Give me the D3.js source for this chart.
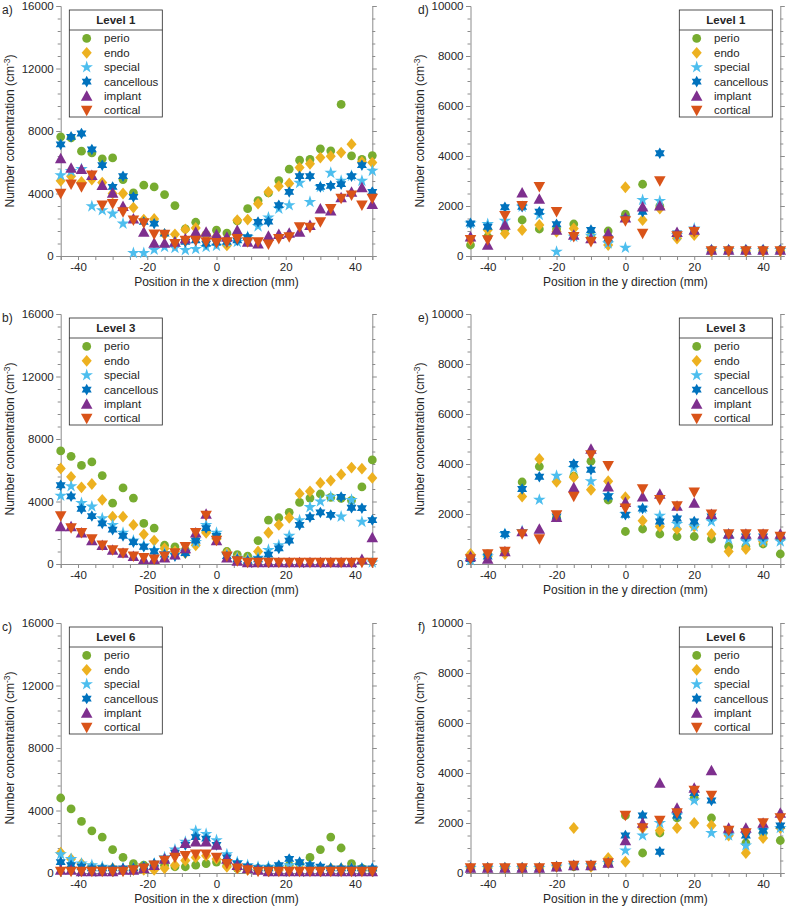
<!DOCTYPE html>
<html><head><meta charset="utf-8">
<script src="https://cdn.jsdelivr.net/npm/d3@7"></script>
<style>body{margin:0;background:#fff}svg{display:block}text{font-family:"Liberation Sans",Arial,sans-serif;fill:#262626}</style>
</head><body><svg id="c" width="789" height="910"></svg>
<script>
// ---------- categories ----------
const seriesNames = ["perio","endo","special","cancellous","implant","cortical"];
const xPosLeft = [-45,-42,-39,-36,-33,-30,-27,-24,-21,-18,-15,-12,-9,-6,-3,0,3,6,9,12,15,18,21,24,27,30,33,36,39,42,45];
const xPosRight = [-45,-40,-35,-30,-25,-20,-15,-10,-5,0,5,10,15,20,25,30,35,40,45];
const xTickLabels = [-40,-20,0,20,40];
const yTicksLeft = [0,4000,8000,12000,16000];
const yTicksRight = [0,2000,4000,6000,8000,10000];
const levelTitles = ["Level 1","Level 3","Level 6"];

// ---------- panel a (Level 1, x direction) ----------
const a_perio = [7630,7560,6710,6600,6220,6280,4890,4040,4530,4420,3930,3230,1730,2160,1370,1650,1470,2240,3030,3550,4040,4830,5560,6130,6180,6860,6730,9700,6410,6180,6430];
const a_endo = [4810,5100,4740,4890,4700,4000,4000,3100,2330,2370,1390,1390,1700,1800,1400,1250,680,2290,2330,3350,4100,4470,4640,5660,5900,6300,6390,6620,7160,6020,5980];
const a_special = [5170,5430,5560,3180,2930,2710,2070,190,190,400,580,510,380,450,580,650,900,900,1220,1900,2460,3030,3250,4680,3460,4420,5320,4810,5130,4810,5450];
const a_cancellous = [7140,7630,7840,6820,5810,4420,5110,3780,2180,2070,1430,900,900,1000,790,850,900,1000,1200,2180,2200,3250,4100,5110,5110,4420,4490,4600,5110,5810,4100];
const a_implant = [6240,5640,5560,5170,4530,4040,3180,2390,1540,830,830,900,1110,1540,1540,1380,1220,1650,900,790,1280,1390,1470,1540,1970,3030,2890,3740,4100,4380,3310];
const a_cortical = [4000,4600,4420,5170,3250,3350,2820,2290,2120,1390,1370,790,1000,1000,900,850,900,1110,900,900,750,1110,1220,1860,1820,2180,3030,3680,3890,3250,3680];

// ---------- panel b (Level 3, x direction) ----------
const b_perio = [7240,6890,6310,6530,5660,3890,4870,4220,2600,2300,1200,1100,900,1500,2100,1800,800,600,500,1500,2810,2960,3310,3940,4220,4480,4260,4200,4070,4930,6660];
const b_endo = [6120,5580,4910,5120,4110,3030,3030,2500,1900,1500,1000,800,700,1200,2000,1600,700,400,300,800,2000,2500,2960,4500,4650,5190,5340,5730,6170,6100,5510];
const b_special = [4370,4980,3900,3680,2920,2500,2000,1500,1200,900,700,600,800,1400,2500,2000,600,400,300,400,900,1200,1800,2800,3640,4000,4300,3030,4100,2700,100];
const b_cancellous = [5040,4330,3530,3070,2600,2200,1800,1400,1100,800,600,500,700,1500,2300,1800,500,300,200,300,600,1000,1500,2500,3000,3300,3140,4290,3600,3570,2810];
const b_implant = [2400,2400,2000,1500,1200,900,700,500,300,300,400,600,1000,2000,3200,1500,400,200,100,100,100,100,100,100,100,100,100,100,100,300,1700];
const b_cortical = [3070,2300,2000,1600,1200,900,700,500,400,300,500,700,1100,2000,3100,1500,500,200,100,100,100,100,100,100,100,100,100,100,100,100,100];

// ---------- panel c (Level 6, x direction) ----------
const c_perio = [4800,4100,3300,2700,2300,1500,1000,600,500,500,500,400,400,500,600,700,500,300,300,300,300,400,500,600,1000,1500,2300,1600,600,300,200];
const c_endo = [1300,900,600,400,300,300,200,200,200,200,300,500,800,1000,1100,900,400,300,200,200,200,200,300,300,300,300,300,300,300,200,200];
const c_special = [1200,900,600,500,400,300,300,300,400,600,1000,1500,2000,2700,2500,2100,1200,700,500,400,400,400,500,500,400,300,300,300,300,300,300];
const c_cancellous = [700,500,400,300,300,300,300,300,400,600,900,1300,1800,2300,2200,1800,1000,600,400,300,300,500,900,700,500,400,300,300,300,300,300];
const c_implant = [200,200,100,100,100,100,200,200,300,500,900,1400,1900,2000,2000,1800,900,500,300,200,100,100,100,100,100,100,100,100,100,100,100];
const c_cortical = [100,100,100,100,100,100,100,200,300,500,800,1000,1100,1200,1200,1000,600,300,200,100,100,100,100,100,100,100,100,100,100,100,100];

// ---------- panel d (Level 1, y direction) ----------
const d_perio = [440,770,1080,1440,1080,1080,1280,800,1000,1670,2870,2000,770,900,240,240,240,240,240];
const d_endo = [640,1040,900,1040,1240,970,1100,700,440,2750,1440,1900,700,840,200,200,200,200,200];
const d_special = [1300,1280,1410,1970,1640,170,770,810,500,330,2240,2200,840,1100,240,240,240,240,240];
const d_cancellous = [1300,1170,1950,1970,1770,1270,810,1040,700,1500,1770,4110,900,1000,240,240,240,240,240];
const d_implant = [770,440,1240,2530,2280,1040,840,700,900,1530,1970,2010,950,1040,240,240,240,240,240];
const d_cortical = [650,640,1610,2010,2770,1770,770,570,600,1400,900,3000,800,970,200,200,200,200,200];

// ---------- panel e (Level 3, y direction) ----------
const e_perio = [200,400,500,3280,3900,1870,3510,4110,2560,1300,1400,1200,1100,1100,1000,700,700,800,400];
const e_endo = [400,300,400,2700,4200,3290,3470,2970,3310,2670,1730,1500,1400,1500,1200,500,600,900,1000];
const e_special = [150,300,1200,1320,2570,3530,3840,3310,2760,2000,2220,1930,1600,1500,1700,1000,900,900,900];
const e_cancellous = [200,300,1200,3000,3490,1900,4000,3770,2700,1970,2220,1700,1820,1700,1900,1200,1100,1100,1100];
const e_implant = [300,200,500,1300,1400,1870,3060,4600,3090,2470,2690,2800,2320,2440,1990,1200,1200,1200,1200];
const e_cortical = [200,400,500,1200,1000,1960,2700,4360,3930,2230,3000,2570,2320,2870,1990,1200,1200,1200,1100];

// ---------- panel f (Level 6, y direction) ----------
const f_perio = [200,200,200,200,200,250,250,250,400,2300,800,1600,2200,3000,2200,1700,1200,1600,1300];
const f_endo = [200,200,200,200,200,250,1800,250,600,450,1800,1700,1800,2000,1900,1500,800,1400,1800];
const f_special = [200,200,200,200,200,250,300,300,400,900,1500,2000,2300,2900,1600,1500,1100,1700,1800];
const f_cancellous = [200,200,200,200,200,250,300,300,400,1500,2300,850,2300,3200,2900,1700,1500,1700,1900];
const f_implant = [200,200,200,200,200,250,300,300,400,1300,2000,3600,2600,3400,4100,1800,1800,2000,2400];
const f_cortical = [200,200,200,200,200,250,300,300,400,2300,1800,2100,2400,3300,3100,1700,1600,2000,2200];

const colors = ["#77AC30","#EDB120","#4DBEEE","#0072BD","#7E2F8E","#D95319"];

const panels = [
  {id:"a)", side:"L", top:6, level:0, data:[a_perio,a_endo,a_special,a_cancellous,a_implant,a_cortical]},
  {id:"b)", side:"L", top:314, level:1, data:[b_perio,b_endo,b_special,b_cancellous,b_implant,b_cortical]},
  {id:"c)", side:"L", top:623, level:2, data:[c_perio,c_endo,c_special,c_cancellous,c_implant,c_cortical]},
  {id:"d)", side:"R", top:6, level:0, data:[d_perio,d_endo,d_special,d_cancellous,d_implant,d_cortical]},
  {id:"e)", side:"R", top:314, level:1, data:[e_perio,e_endo,e_special,e_cancellous,e_implant,e_cortical]},
  {id:"f)", side:"R", top:623, level:2, data:[f_perio,f_endo,f_special,f_cancellous,f_implant,f_cortical]}
];

// ---------- marker shapes ----------
function shapePath(k, s){
  const p = d3.path();
  if(k===0){ p.arc(0,0,s*0.44,0,2*Math.PI); }
  else if(k===1){ const w=s*0.48,h=s*0.56; p.moveTo(0,-h);p.lineTo(w,0);p.lineTo(0,h);p.lineTo(-w,0);p.closePath(); }
  else if(k===2){ const R=s*0.6,r=R*0.382; for(let i=0;i<10;i++){const a=-Math.PI/2+i*Math.PI/5,rr=i%2?r:R; i?p.lineTo(rr*Math.cos(a),rr*Math.sin(a)):p.moveTo(rr*Math.cos(a),rr*Math.sin(a));} p.closePath(); }
  else if(k===3){ const R=s*0.55,r=R*0.577; for(let i=0;i<12;i++){const a=-Math.PI/2+i*Math.PI/6,rr=i%2?r:R; i?p.lineTo(rr*Math.cos(a),rr*Math.sin(a)):p.moveTo(rr*Math.cos(a),rr*Math.sin(a));} p.closePath(); }
  else if(k===4){ const h=s*0.5,w=s*0.55; p.moveTo(0,-h-0.5);p.lineTo(w,h-0.5);p.lineTo(-w,h-0.5);p.closePath(); }
  else { const h=s*0.5,w=s*0.55; p.moveTo(0,h+0.5);p.lineTo(w,-h+0.5);p.lineTo(-w,-h+0.5);p.closePath(); }
  return p.toString();
}
const markerSize = [10,10.5,11,10.5,10.5,10.5];

const svg = d3.select("#c");
const H = 250;
panels.forEach(P=>{
  const L = P.side==="L";
  const x0 = L?60.7:470.5, x1 = L?372.3:780.3;
  const xs = L?xPosLeft:xPosRight;
  const ymax = L?16000:10000;
  const x = d3.scaleLinear().domain([-45,45]).range([x0,x1]);
  const y = d3.scaleLinear().domain([0,ymax]).range([P.top+H,P.top]);
  const g = svg.append("g");
  const axisCol = "#8c8c8c";
  const minorStep = L?800:500;
  const yMinor = d3.range(0,ymax+1,minorStep);
  const xMinor = d3.range(-45,46,5);
  const gx = g.append("g").attr("transform",`translate(0,${P.top+H})`)
    .call(d3.axisBottom(x).tickValues(xMinor).tickSize(4).tickFormat(d=>xTickLabels.includes(d)?d:""));
  const gyl = g.append("g").attr("transform",`translate(${x0},0)`)
    .call(d3.axisLeft(y).tickValues(yMinor).tickSize(3).tickFormat(d=>(L?yTicksLeft:yTicksRight).includes(d)?d:""));
  const gyr = g.append("g").attr("transform",`translate(${x1},0)`)
    .call(d3.axisRight(y).tickValues(yMinor).tickSize(3).tickFormat(""));
  [gx,gyl,gyr].forEach(a=>{
    a.select(".domain").attr("stroke",axisCol).attr("stroke-width",1);
    a.selectAll(".tick line").attr("stroke",axisCol);
    a.selectAll("text").style("font-size","11.5px").attr("fill","#262626");
  });
  gyl.selectAll(".tick").filter(d=>(L?yTicksLeft:yTicksRight).includes(d)).select("line").attr("x2",-4.5);
  gyr.selectAll(".tick").filter(d=>(L?yTicksLeft:yTicksRight).includes(d)).select("line").attr("x2",4.5);
  gyl.selectAll("text").attr("x",-7);
  gx.selectAll("text").attr("y",7);
  g.append("text").attr("x",(x0+x1)/2).attr("y",P.top+H+30).attr("text-anchor","middle").style("font-size","12px")
    .text(L?"Position in the x direction (mm)":"Position in the y direction (mm)");
  const yl = g.append("text").attr("transform",`translate(${x0-47},${P.top+H/2}) rotate(-90)`).attr("text-anchor","middle").style("font-size","12px");
  yl.append("tspan").text("Number concentration (cm");
  yl.append("tspan").attr("dy",-4).style("font-size","8.5px").text("-3");
  yl.append("tspan").attr("dy",4).text(")");
  g.append("text").attr("x",L?2:418).attr("y",P.top+8).style("font-size","12px").text(P.id);
  P.data.forEach((vals,k)=>{
    g.append("g").selectAll("path").data(vals).join("path")
      .attr("transform",(v,i)=>`translate(${x(xs[i])},${y(v)})`)
      .attr("d",shapePath(k,markerSize[k]))
      .attr("fill",colors[k]);
  });
  const lx = L?69.3:679.3, ly = P.top+4, lw=93, lh=107;
  const lg = g.append("g");
  lg.append("rect").attr("x",lx).attr("y",ly).attr("width",lw).attr("height",lh).attr("fill","#fff").attr("stroke","#262626").attr("stroke-width",0.8);
  lg.append("line").attr("x1",lx).attr("x2",lx+lw).attr("y1",ly+20).attr("y2",ly+20).attr("stroke","#262626").attr("stroke-width",0.8);
  lg.append("text").attr("x",lx+lw/2).attr("y",ly+14).attr("text-anchor","middle").style("font-size","11.5px").style("font-weight","bold").text(levelTitles[P.level]);
  seriesNames.forEach((n,k)=>{
    const yy = ly+28.4+k*14.4;
    lg.append("path").attr("transform",`translate(${lx+17.4},${yy})`).attr("d",shapePath(k,markerSize[k])).attr("fill",colors[k]);
    lg.append("text").attr("x",lx+34.7).attr("y",yy+4).style("font-size","11.5px").text(n);
  });
});
</script></body></html>
